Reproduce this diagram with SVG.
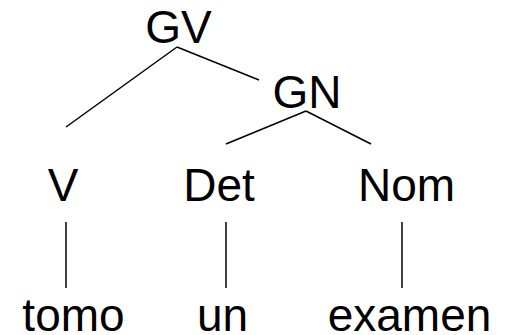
<svg xmlns="http://www.w3.org/2000/svg" width="506" height="335" viewBox="0 0 506 335">
  <style>
    .lbl { font-family: "Liberation Sans", Arial, sans-serif; font-size: 46px; fill: #000; text-anchor: middle; }
    .edge { stroke: #000; stroke-width: 1.5; fill: none; }
  </style>
  <rect width="506" height="335" fill="#fff"/>
  <g id="connectors">
    <line class="edge" x1="177" y1="47" x2="66" y2="127"/>
    <line class="edge" x1="177" y1="47" x2="259" y2="80"/>
    <line class="edge" x1="306" y1="111" x2="226" y2="144"/>
    <line class="edge" x1="306" y1="111" x2="371" y2="144"/>
    <line class="edge" x1="66" y1="222" x2="66" y2="288"/>
    <line class="edge" x1="226" y1="222" x2="226" y2="288"/>
    <line class="edge" x1="402" y1="222" x2="402" y2="288"/>
  </g>
  <g id="node-gv"><text class="lbl" x="178.5" y="43">GV</text></g>
  <g id="node-gn"><text class="lbl" x="307" y="108">GN</text></g>
  <g id="node-v"><text class="lbl" x="63" y="201">V</text></g>
  <g id="node-det"><text class="lbl" x="219" y="201">Det</text></g>
  <g id="node-nom"><text class="lbl" x="406.5" y="201">Nom</text></g>
  <g id="leaf-tomo"><text class="lbl" x="73.5" y="331">tomo</text></g>
  <g id="leaf-un"><text class="lbl" x="222.5" y="331">un</text></g>
  <g id="leaf-examen"><text class="lbl" x="409.5" y="331">examen</text></g>
</svg>
